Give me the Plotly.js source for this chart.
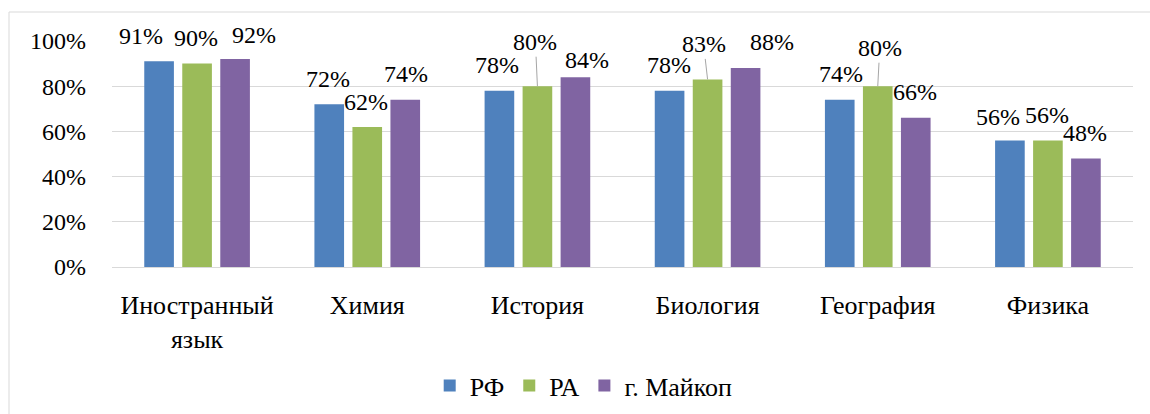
<!DOCTYPE html>
<html><head><meta charset="utf-8">
<script src="https://cdn.plot.ly/plotly-3.0.1.min.js"></script>
<style>
html,body{margin:0;padding:0;background:#fff}
#chart{width:1150px;height:414px}
</style>
</head><body><div id="chart"></div>
<script>
const categories = ['Иностранный<br>язык','Химия','История','Биология','География','Физика'];
const seriesNames = ['РФ','РА','г. Майкоп'];
const rf = [91,72,78,78,74,56];
const ra = [90,62,80,83,80,56];
const maykop = [92,74,84,88,66,48];
const yTickVals = [0,0.2,0.4,0.6,0.8,1.0];
const yTickText = ['0%','20%','40%','60%','80%','100%'];

const colors = ['#4f81bd','#9bbb59','#8064a2'];
const seriesValues = [rf, ra, maykop];
// label placement styling (pixels)
const barOffsetPx = [-38, 0, 38];
const labelDx = [[-18,-1,-2,-1,1,-12],[-1,-1,-2,-4,2,-1],[19,1,12,26,-1,-1]];
const labelDy = [[25,25,26,26,26,23],[26,25,0,0,0,25],[24,26,17,26,26,26]];
const leader = [[null,null,null,null,null,null],[null,null,[-2,-44],[-4,-35],[2,-38],null],[null,null,null,null,null,null]];

const FONT = 'Times New Roman';
const FS = 24;
const FS_CAT = 26;
const TXT = '#000';

const traces = seriesValues.map((vals,i)=>({
  type:'bar', name:seriesNames[i], x:categories, y:vals.map(v=>v/100),
  marker:{color:colors[i], line:{width:0}}, hoverinfo:'skip'
}));

const annotations = [];
seriesValues.forEach((vals,s)=>{
  vals.forEach((v,c)=>{
    const L = leader[s][c];
    if (L) {
      annotations.push({x:categories[c], y:v/100, xref:'x', yref:'y', text:v+'%',
        xshift:barOffsetPx[s], showarrow:true, arrowhead:0, arrowwidth:1, arrowcolor:'#a6a6a6',
        ax:L[0], ay:L[1], axref:'pixel', ayref:'pixel', standoff:0,
        font:{family:FONT,size:FS,color:TXT}});
    } else {
      annotations.push({x:categories[c], y:v/100, xref:'x', yref:'y', text:v+'%',
        xshift:barOffsetPx[s]+labelDx[s][c], yshift:labelDy[s][c], yanchor:'middle', xanchor:'center',
        showarrow:false, font:{family:FONT,size:FS,color:TXT}});
    }
  });
});

const layout = {
  width:1150, height:414,
  margin:{l:112, r:17, t:41, b:147, autoexpand:false},
  paper_bgcolor:'#fff', plot_bgcolor:'#fff',
  font:{family:FONT, size:FS, color:TXT},
  barmode:'group', bargap:0.33, bargroupgap:0.22,
  showlegend:true,
  legend:{orientation:'h', x:0.462, xanchor:'center', y:-0.525, yanchor:'middle',
    font:{family:FONT,size:FS_CAT,color:TXT}, itemclick:false, traceorder:'normal'},
  xaxis:{type:'category', showgrid:false, zeroline:false, showline:false, ticks:'',
    ticklabelstandoff:20, tickfont:{family:FONT,size:FS_CAT,color:TXT}, automargin:false, fixedrange:true},
  yaxis:{range:[0,1.0], tickvals:yTickVals, ticktext:yTickText, showgrid:true, gridcolor:'#d9d9d9', gridwidth:1,
    zeroline:true, zerolinecolor:'#d9d9d9', zerolinewidth:1, showline:false, ticks:'',
    ticklabelstandoff:25, tickfont:{family:FONT,size:FS,color:TXT}, automargin:false, fixedrange:true},
  annotations:annotations,
  shapes:[{type:'rect', xref:'paper', yref:'paper', x0:(9-112)/1021, x1:1.05, y0:-0.8, y1:(267-12)/226,
    line:{color:'#d9d9d9', width:1}, fillcolor:'rgba(0,0,0,0)', layer:'below'}]
};

Plotly.newPlot('chart', traces, layout, {displayModeBar:false, staticPlot:true});
</script></body></html>
